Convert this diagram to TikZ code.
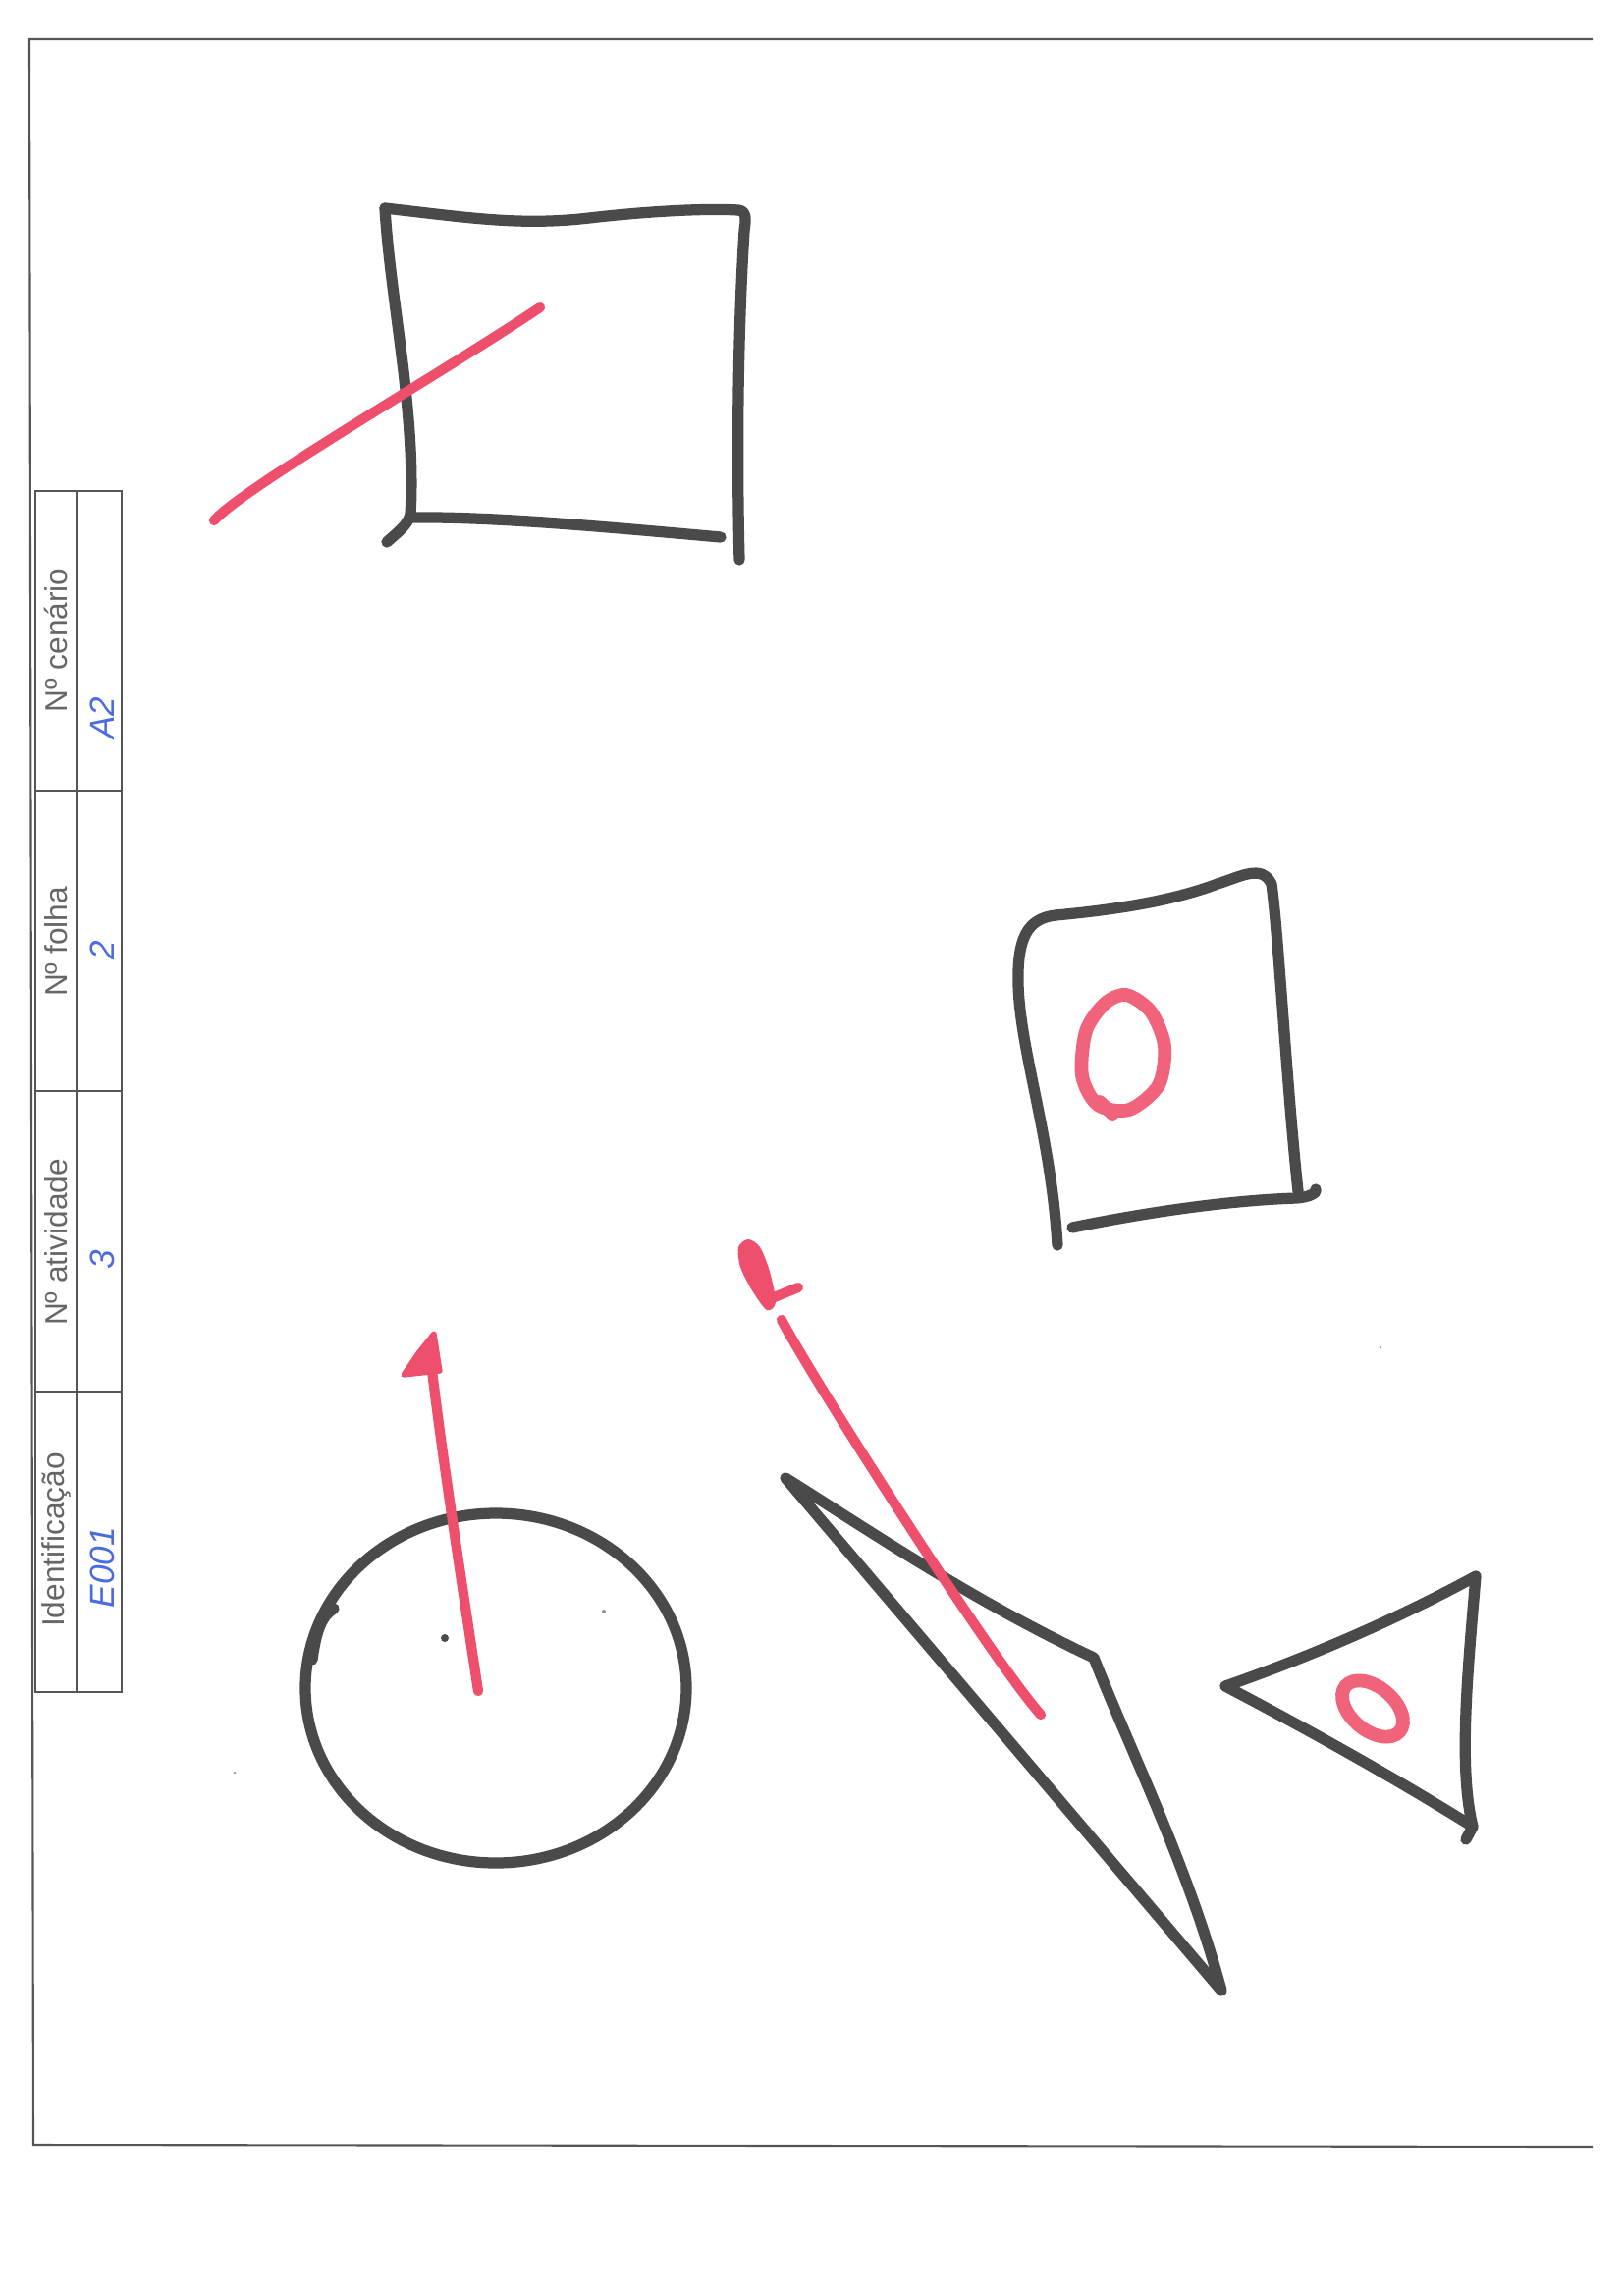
\documentclass[tikz,border=0pt]{standalone}
\usepackage{fontspec}
\setmainfont{Liberation Sans}
\usepackage{tikz}
\definecolor{marker}{HTML}{4A4A4A}
\definecolor{markred}{HTML}{EE4F6C}
\definecolor{markpink}{HTML}{F0637A}
\definecolor{penblue}{HTML}{4A6CE0}
\definecolor{formgray}{HTML}{666666}
\definecolor{rulegray}{HTML}{555555}
\tikzset{
  blackline/.style={draw=marker,line width=3.2pt,line cap=round,line join=round},
  redline/.style={draw=markred,line width=2.9pt,line cap=round,line join=round},
  redhead/.style={fill=markred,draw=markred,line width=1.5pt,line join=round},
  ring/.style={draw=markpink,line width=3.9pt,line cap=round},
  frameline/.style={draw=rulegray,line width=0.6pt},
  formline/.style={draw=rulegray,line width=0.5pt},
  formlabel/.style={rotate=90,font=\fontsize{9}{10}\selectfont,
                    text=formgray,inner sep=0pt},
  penlabel/.style={rotate=90,font=\fontsize{10}{11}\selectfont\itshape,
                   text=penblue,inner sep=0pt}
}

\begin{document}
\begin{tikzpicture}[x=0.01cm,y=-0.01cm]
    \path[use as bounding box] (0,0) rectangle (1654,2338);
    % sheet frame
    \draw[frameline] (1622,40) -- (30,40) -- (34,2184) -- (1622,2186);

    % form strip
    \draw[formline] (36,500) rectangle (124,1723);
    \draw[formline] (78,500) -- (78,1723);
    \draw[formline] (36,805) -- (124,805);
    \draw[formline] (36,1111) -- (124,1111);
    \draw[formline] (36,1417) -- (124,1417);
    \node[formlabel] (cenario) at (57,652) {Nº cenário};
    \node[formlabel] (folha) at (57,959) {Nº folha};
    \node[formlabel] (atividade) at (57,1265) {Nº atividade};
    \node[formlabel] (ident) at (57,1568) {Identificação};
    \node[penlabel] (cenval) at (104,731) {A2};
    \node[penlabel] (folhaval) at (104,968) {2};
    \node[penlabel] (ativval) at (104,1283) {3};
    \node[penlabel] (identval) at (104,1596) {E001};

    % top square with stroke
    \draw[blackline] (392,212) .. controls (398,310) and (424,420) .. (418,524)
      .. controls (415,535) and (405,542) .. (394,552);
    \draw[blackline] (392,212) .. controls (480,222) and (530,230) .. (600,222)
      .. controls (660,215) and (720,212) .. (752,214)
      .. controls (760,215) and (760,222) .. (758,235)
      .. controls (752,330) and (750,450) .. (753,570);
    \draw[blackline] (417,527) .. controls (500,526) and (600,535) .. (734,547);
    \draw[redline] (218,530) .. controls (250,495) and (450,380) .. (550,313);

    % right square with ring
    \draw[blackline] (1077,1268) .. controls (1070,1150) and (1035,1060) .. (1037,990)
      .. controls (1038,950) and (1050,935) .. (1075,932)
      .. controls (1150,925) and (1200,915) .. (1240,900)
      .. controls (1265,892) and (1285,880) .. (1295,900)
      .. controls (1302,950) and (1310,1100) .. (1322,1213);
    \draw[blackline] (1092,1250) .. controls (1180,1232) and (1260,1222) .. (1320,1220)
      .. controls (1335,1219) and (1342,1214) .. (1340,1211);
    \draw[ring] plot[smooth cycle] coordinates
      {(1147,1013) (1172,1030) (1186,1065) (1180,1105) (1150,1130) (1118,1125)
       (1102,1095) (1106,1050) (1125,1022)};
    \draw[ring] (1120,1122) -- (1133,1134);

    % circle with arrow
    \draw[blackline] (505,1719) ellipse [x radius=194, y radius=178];
    \draw[blackline] (318,1690) .. controls (322,1660) and (328,1645) .. (340,1638);
    \fill[marker] (453,1668) circle (4);
    \fill[marker!60] (615,1641) circle (2);
    \fill[marker!50] (239,1805) circle (1.5);
    \fill[marker!50] (1406,1372) circle (1.5);
    \draw[redline] (487,1722) .. controls (470,1610) and (450,1480) .. (440,1395);
    \filldraw[redhead] (442,1358) -- (448,1396) -- (411,1400) -- (426,1378) -- cycle;

    % long quadrilateral with arrow
    \draw[blackline] (800,1505) .. controls (880,1555) and (990,1630) .. (1114,1688)
      .. controls (1150,1780) and (1210,1900) .. (1244,2027) -- cycle;
    \draw[redline] (796,1344) .. controls (825,1400) and (1010,1690) .. (1060,1746);
    \fill[markred] plot[smooth cycle] coordinates
      {(752,1270) (762,1262) (774,1270) (784,1295) (790,1326) (781,1334)
       (766,1314) (754,1290)};
    \draw[redline] (781,1324) -- (813,1311);

    % small triangle with ring
    \draw[blackline] (1248,1717) .. controls (1340,1685) and (1430,1645) .. (1503,1605)
      .. controls (1495,1700) and (1485,1800) .. (1500,1860)
      .. controls (1420,1810) and (1330,1760) .. (1248,1717) -- cycle;
    \draw[blackline] (1500,1860) -- (1493,1873);
    \draw[ring,rotate around={-40:(1398,1740)}] (1398,1740)
      ellipse [x radius=36, y radius=22];
\end{tikzpicture}
\end{document}
